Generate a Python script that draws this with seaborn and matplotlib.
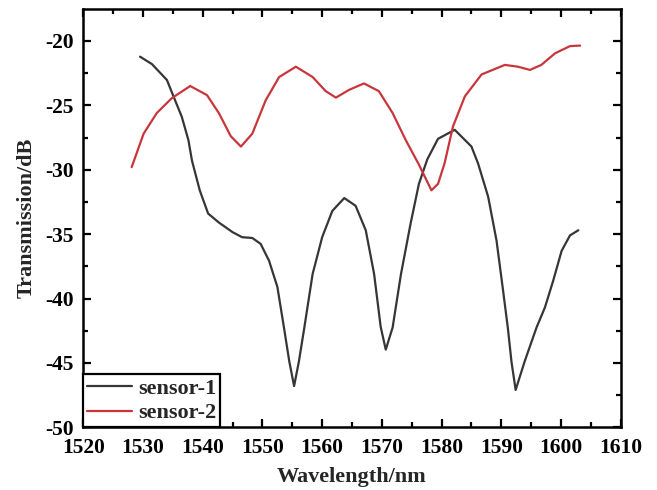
import matplotlib
matplotlib.use("Agg")
import matplotlib.pyplot as plt
import seaborn as sns
import pandas as pd
from matplotlib.ticker import MultipleLocator

sns.set_style("ticks")
plt.rcParams['font.family'] = ['Liberation Serif', 'DejaVu Serif']
plt.rcParams['font.weight'] = 'bold'
plt.rcParams['axes.unicode_minus'] = False

s1_wl = [1529.5, 1531.5, 1534.0, 1535.1, 1536.5, 1537.6, 1538.2, 1539.5, 1540.9, 1542.7,
         1545.0, 1546.6, 1548.3, 1549.7, 1551.1, 1552.5, 1553.6, 1554.5, 1555.3, 1556.1,
         1557.0, 1558.4, 1560.0, 1561.7, 1563.7, 1565.6, 1567.3, 1568.7, 1569.8, 1570.65,
         1571.8, 1573.2, 1574.8, 1576.2, 1577.6, 1579.4, 1582.2, 1585.0, 1586.1, 1587.8,
         1589.2, 1590.3, 1591.1, 1591.7, 1592.4, 1593.9, 1595.9, 1597.3, 1598.7, 1600.1,
         1601.5, 1602.9]
s1_db = [-21.22, -21.8, -23.03, -24.3, -25.9, -27.7, -29.3, -31.6, -33.4, -34.1,
         -34.85, -35.24, -35.3, -35.76, -37.06, -39.1, -42.25, -44.9, -46.8, -44.9,
         -42.3, -38.1, -35.24, -33.2, -32.2, -32.8, -34.7, -38.1, -42.2, -43.97,
         -42.25, -38.1, -34.2, -31.1, -29.2, -27.6, -26.9, -28.2, -29.5, -32.1,
         -35.5, -39.4, -42.3, -44.9, -47.1, -44.9, -42.25, -40.7, -38.6, -36.3,
         -35.1, -34.7]

s2_wl = [1528.1, 1530.1, 1532.3, 1534.8, 1537.9, 1540.7, 1542.7, 1544.7, 1546.4, 1548.3,
         1550.55, 1552.8, 1555.6, 1558.4, 1560.6, 1562.3, 1564.5, 1567.0, 1569.5, 1571.8,
         1574.0, 1576.2, 1578.3, 1579.4, 1580.5, 1581.9, 1583.9, 1586.7, 1590.6, 1592.8,
         1594.8, 1596.7, 1599.0, 1601.5, 1603.2]
s2_db = [-29.8, -27.2, -25.6, -24.45, -23.5, -24.2, -25.6, -27.4, -28.2, -27.2,
         -24.6, -22.8, -22.0, -22.8, -23.9, -24.4, -23.8, -23.3, -23.9, -25.6,
         -27.7, -29.6, -31.6, -31.1, -29.5, -26.65, -24.3, -22.6, -21.86, -22.0,
         -22.25, -21.86, -20.96, -20.4, -20.36]

df = pd.concat([
    pd.DataFrame({"Wavelength": s1_wl, "Transmission": s1_db, "series": "sensor-1"}),
    pd.DataFrame({"Wavelength": s2_wl, "Transmission": s2_db, "series": "sensor-2"}),
])

fig = plt.figure(figsize=(6.57, 4.90), dpi=100)
ax = fig.add_axes([0.1268, 0.128, 0.818, 0.8536])
sns.lineplot(data=df, x="Wavelength", y="Transmission", hue="series",
             palette={"sensor-1": "#363636", "sensor-2": "#c8363c"},
             linewidth=1.6, ax=ax, sort=False)

ax.set_xlim(1520, 1610)
ax.set_ylim(-50, -17.52)
ax.xaxis.set_major_locator(MultipleLocator(10))
ax.xaxis.set_minor_locator(MultipleLocator(5))
ax.yaxis.set_major_locator(MultipleLocator(5))
ax.yaxis.set_minor_locator(MultipleLocator(2.5))
ax.tick_params(which='both', direction='in', top=True, right=True, width=1.6,
               labelsize=15.5, colors='black')
ax.tick_params(axis='x', which='major', length=6, pad=8)
ax.tick_params(axis='y', which='major', length=6, pad=7)
ax.tick_params(which='minor', length=3.5)
for lab in ax.get_xticklabels() + ax.get_yticklabels():
    lab.set_fontweight('bold')
for sp in ax.spines.values():
    sp.set_linewidth(1.8)
    sp.set_color('black')

ax.set_xlabel("Wavelength/nm", fontsize=16, fontweight='bold', labelpad=6)
ax.set_ylabel("Transmission/dB", fontsize=16, fontweight='bold', labelpad=6)

leg = ax.legend(loc='lower left', borderaxespad=0, fancybox=False, edgecolor='black',
                framealpha=1, prop={'size': 16, 'weight': 'bold'}, handlelength=2.0,
                handletextpad=0.28, borderpad=0.18, labelspacing=0.18, title=None)
leg.get_frame().set_linewidth(1.6)
for h in leg.get_lines():
    h.set_linewidth(1.6)

fig.savefig("out.png", dpi=100)
